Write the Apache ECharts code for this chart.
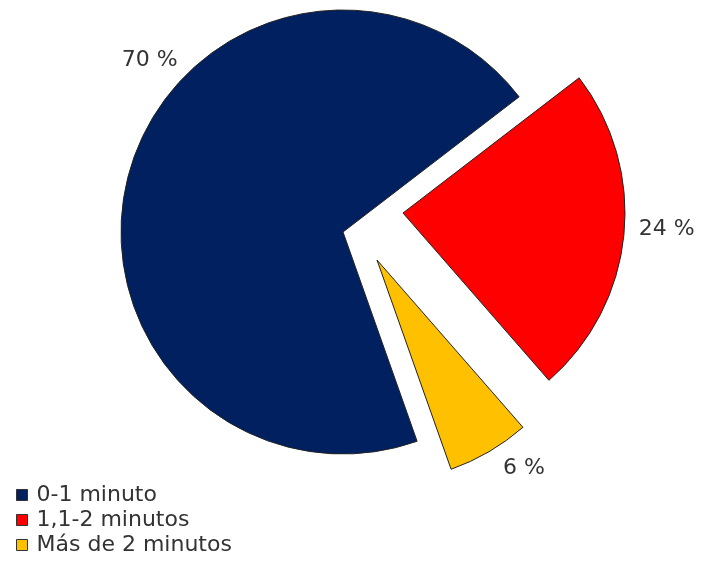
<!DOCTYPE html>
<html>
<head>
<meta charset="utf-8">
<script src="https://cdn.jsdelivr.net/npm/echarts@6/dist/echarts.min.js"></script>
<style>
  html, body { margin: 0; padding: 0; background: #ffffff; }
  #chart { width: 706px; height: 585px; }
</style>
</head>
<body>
<div id="chart"></div>
<script>
// Response time shares
const categories = ['0-1 minuto', '1,1-2 minutos', 'Más de 2 minutos'];
const values = [70, 24, 6];
const colors = ['#002060', '#ff0000', '#ffc000'];

// Each slice gets its own pie series so exploded slices can sit at their own centre;
// all three series share the same values so the library computes identical angles.
const sliceCenters = [[343, 232], [403, 213], [377, 260]];
// Nudges applied to the default outside label positions
const labelNudge = [[62, -106], [0, -7], [4, 8]];
const FONT = 'DejaVu Sans';

function sliceSeries(k) {
  return {
    type: 'pie',
    name: categories[k],
    center: sliceCenters[k],
    radius: 222,
    startAngle: 289.5,
    clockwise: true,
    avoidLabelOverlap: false,
    minShowLabelAngle: 0,
    animation: false,
    silent: true,
    emphasis: { disabled: true },
    label: {
      position: 'outside',
      fontFamily: FONT,
      fontSize: 22,
      color: '#333333',
      formatter: p => p.value + ' %'
    },
    labelLine: { show: false, length: 10, length2: 0 },
    labelLayout: () => ({ dx: labelNudge[k][0], dy: labelNudge[k][1] }),
    data: values.map((v, j) => ({
      name: categories[j],
      value: v,
      itemStyle: j === k
        ? { color: colors[j], borderColor: '#222222', borderWidth: 1 }
        : { color: 'rgba(0,0,0,0)', borderWidth: 0 },
      label: { show: j === k }
    }))
  };
}

const chart = echarts.init(document.getElementById('chart'), null, { renderer: 'canvas' });
chart.setOption({
  backgroundColor: '#ffffff',
  animation: false,
  legend: {
    orient: 'vertical',
    left: 11,
    top: 479,
    icon: 'rect',
    itemWidth: 11,
    itemHeight: 11,
    itemGap: 3,
    selectedMode: false,
    textStyle: { fontFamily: FONT, fontSize: 22, color: '#333333', lineHeight: 22, padding: [0, 0, 0, 4] },
    data: categories.map((c, j) => ({
      name: c,
      itemStyle: { color: colors[j], borderColor: '#333333', borderWidth: 1 }
    }))
  },
  series: categories.map((c, k) => sliceSeries(k))
});
</script>
</body>
</html>
